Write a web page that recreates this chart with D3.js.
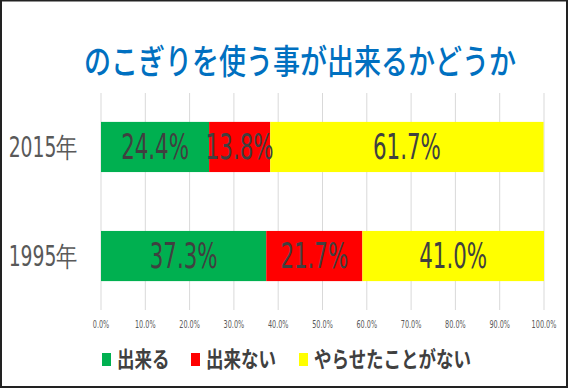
<!DOCTYPE html>
<html>
<head>
<meta charset="utf-8">
<script src="https://cdn.jsdelivr.net/npm/d3@7"></script>
<style>
  body { margin: 0; background: #fff; }
</style>
</head>
<body>
<div id="wrapper"></div>
<script>
const years = ["2015年", "1995年"]
const seriesNames = ["出来る", "出来ない", "やらせたことがない"]
const canDo = [24.4, 37.3]
const cannotDo = [13.8, 21.7]
const neverTried = [61.7, 41.0]
const xTicks = [0, 10, 20, 30, 40, 50, 60, 70, 80, 90, 100]
const colors = ["#00B050", "#FF0000", "#FFFF00"]

function drawBarChart() {
    let dimensions = { width: 569, height: 389 }
    const wrapper = d3.select("#wrapper")
        .append("svg")
            .attr("width", dimensions.width)
            .attr("height", dimensions.height)

    // frame
    wrapper.append("rect")
        .attr("x", 1).attr("y", 0.5)
        .attr("width", 566).attr("height", 386.5)
        .attr("fill", "#fff")
        .attr("stroke", "#222")
        .attr("stroke-width", 2)

    const narrow = "'Liberation Sans Narrow', 'DejaVu Sans Condensed', sans-serif"
    const jp = "'Noto Sans CJK JP', sans-serif"

    // stretched text helper
    const addText = (sel, x, y, txt, sx, sy) => sel.append("text")
        .attr("transform", `translate(${x},${y}) scale(${sx},${sy})`)
        .text(txt)

    // title
    addText(wrapper, 300, 74, "のこぎりを使う事が出来るかどうか", 1, 1.25)
        .attr("text-anchor", "middle")
        .attr("font-family", jp)
        .attr("font-weight", 500)
        .attr("font-size", 27)
        .attr("fill", "#0070C0")

    const xScale = d3.scaleLinear()
        .domain([0, 100])
        .range([101, 544])
    const yScale = d3.scaleBand()
        .domain(years)
        .range([93, 310])
        .paddingInner(0.54)
        .paddingOuter(0.265)

    // gridlines
    wrapper.append("g").selectAll("line")
        .data(xTicks)
        .join("line")
            .attr("x1", d => xScale(d)).attr("x2", d => xScale(d))
            .attr("y1", 93).attr("y2", 310)
            .attr("stroke", "#D9D9D9")
            .attr("stroke-width", 1)

    // tick labels
    const tickG = wrapper.append("g")
    xTicks.forEach(t => {
        addText(tickG, xScale(t), 328, t.toFixed(1) + "%", 0.85, 1.2)
            .attr("text-anchor", "middle")
            .attr("font-family", narrow)
            .attr("font-size", 8.5)
            .attr("fill", "#595959")
    })

    // stacked data
    const rows = years.map((y, i) => ({ year: y, a: canDo[i], b: cannotDo[i], c: neverTried[i] }))
    const stack = d3.stack().keys(["a", "b", "c"])(rows)

    const bars = wrapper.append("g")
    stack.forEach((layer, k) => {
        bars.append("g").selectAll("rect")
            .data(layer)
            .join("rect")
                .attr("x", d => xScale(d[0]))
                .attr("width", d => xScale(d[1]) - xScale(d[0]))
                .attr("y", d => yScale(d.data.year))
                .attr("height", yScale.bandwidth())
                .attr("fill", colors[k])
    })

    // data labels
    const labels = wrapper.append("g")
    stack.forEach(layer => {
        layer.forEach(d => {
            const cx = (xScale(d[0]) + xScale(d[1])) / 2
            const cy = yScale(d.data.year) + yScale.bandwidth() / 2
            addText(labels, cx, cy + 12, (d[1] - d[0]).toFixed(1) + "%", 0.88, 1.32)
                .attr("text-anchor", "middle")
                .attr("font-family", narrow)
                .attr("font-size", 27)
                .attr("fill", "#404040")
        })
    })

    // category labels
    years.forEach(y => {
        addText(wrapper, 77, yScale(y) + yScale.bandwidth() / 2 + 10, y, 0.95, 1.25)
            .attr("text-anchor", "end")
            .attr("font-family", narrow)
            .attr("font-size", 22)
            .attr("fill", "#595959")
    })

    // legend
    const legendX = [102, 191, 299]
    const legend = wrapper.append("g")
    seriesNames.forEach((name, i) => {
        legend.append("rect")
            .attr("x", legendX[i]).attr("y", 353)
            .attr("width", 9).attr("height", 13)
            .attr("fill", colors[i])
        addText(legend, legendX[i] + 15, 367, name, 1, 1.25)
            .attr("font-family", jp)
            .attr("font-weight", 700)
            .attr("font-size", 17.5)
            .attr("fill", "#404040")
    })
}
drawBarChart()
</script>
</body>
</html>
